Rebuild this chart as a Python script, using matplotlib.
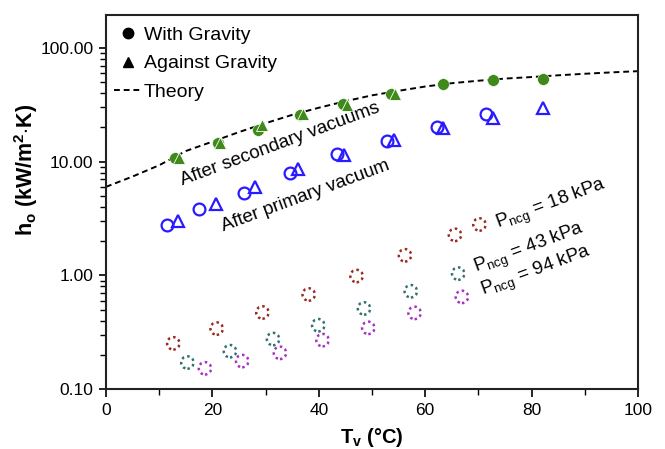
import matplotlib
matplotlib.use("Agg")
import matplotlib.pyplot as plt
from matplotlib.lines import Line2D
from matplotlib.ticker import FixedLocator, FuncFormatter, LogLocator, NullFormatter

plt.rcParams['font.family'] = ['Liberation Sans', 'DejaVu Sans']
plt.rcParams['mathtext.fontset'] = 'custom'
plt.rcParams['mathtext.rm'] = 'Liberation Sans'
plt.rcParams['mathtext.it'] = 'Liberation Sans:italic'
plt.rcParams['mathtext.bf'] = 'Liberation Sans:bold'

# ---- data ----
sec_with_x = [13.0, 21.0, 28.6, 36.5, 44.5, 53.5, 63.4, 72.8, 82.2]
sec_with_y = [10.7, 14.5, 18.8, 25.7, 32.0, 39.7, 48.1, 52.1, 53.8]
sec_against_x = [13.8, 21.5, 29.3, 37.0, 45.3, 54.3]
sec_against_y = [10.8, 14.6, 21.0, 26.0, 31.5, 39.0]

pri_with_x = [11.4, 17.5, 25.9, 34.6, 43.5, 52.9, 62.3, 71.4]
pri_with_y = [2.79, 3.85, 5.27, 7.96, 11.7, 15.3, 20.3, 26.5]
pri_against_x = [13.6, 20.7, 28.0, 36.0, 44.8, 54.1, 63.4, 72.8, 82.2]
pri_against_y = [2.99, 4.2, 6.04, 8.63, 11.5, 15.5, 19.6, 24.2, 29.6]

ncg18_x = [12.65, 20.8, 29.4, 38.1, 47.1, 56.2, 65.6, 70.2]
ncg18_y = [0.252, 0.340, 0.471, 0.678, 0.986, 1.50, 2.27, 2.80]
ncg43_x = [15.3, 23.3, 31.4, 39.9, 48.5, 57.3, 66.2]
ncg43_y = [0.171, 0.215, 0.275, 0.364, 0.511, 0.724, 1.035]
ncg94_x = [18.6, 25.6, 32.7, 40.7, 49.3, 58.0, 66.9]
ncg94_y = [0.152, 0.176, 0.208, 0.269, 0.345, 0.467, 0.646]

theory_x = [0, 5, 10, 15, 20, 25, 30, 35, 40, 45, 50, 55, 60, 65, 70, 75, 80, 85, 90, 95, 100]
theory_y = [6.0, 7.4, 9.3, 12.4, 15.0, 18.2, 21.8, 25.8, 29.8, 34.0, 38.3, 42.0, 45.8,
            49.0, 51.5, 53.8, 55.5, 57.5, 59.3, 61.0, 62.5]

y_ticks = [0.1, 1, 10, 100]
x_ticks = [0, 20, 40, 60, 80, 100]

green = '#3f8a1a'
blue = '#2a1aff'
c18 = '#9a2b22'
c43 = '#2f7272'
c94 = '#a533c0'

fig = plt.figure(figsize=(6.65, 4.49), dpi=100)
ax = fig.add_axes([106/665, 1-389/449, 532/665, 374/449])
ax.set_yscale('log')
ax.set_xlim(0, 100)
ax.set_ylim(0.1, 195)

ax.plot(theory_x, theory_y, ls=(0, (3, 2)), color='black', lw=1.4, zorder=2)

ax.plot(sec_with_x, sec_with_y, 'o', color=green, ms=8.5, mec='white', mew=0.4, zorder=3)
ax.plot(sec_against_x, sec_against_y, '^', color=green, ms=9, mec='white', mew=0.6, zorder=4)

ax.plot(pri_with_x, pri_with_y, 'o', mfc='none', mec=blue, ms=8.5, mew=1.6, zorder=3)
ax.plot(pri_against_x, pri_against_y, '^', mfc='none', mec=blue, ms=9, mew=1.6, zorder=3)

for xs, ys, c in [(ncg18_x, ncg18_y, c18), (ncg43_x, ncg43_y, c43), (ncg94_x, ncg94_y, c94)]:
    ax.scatter(xs, ys, s=80, facecolors='none', edgecolors=c, linewidths=1.8,
               linestyle=(0, (1, 1.3)), zorder=3)

# texts
fig.text(280/665, 1-144/449, 'After secondary vacuums', rotation=20.4, fontsize=13.5,
         ha='center', va='center')
fig.text(306/665, 1-196/449, 'After primary vacuum', rotation=20.4, fontsize=13.5,
         ha='center', va='center')
fig.text(551/665, 1-205/449, r'P$_{\mathregular{ncg}}$ = 18 kPa', rotation=20.3, fontsize=13.5,
         ha='center', va='center')
fig.text(529/665, 1-249/449, r'P$_{\mathregular{ncg}}$ = 43 kPa', rotation=20.3, fontsize=13.5,
         ha='center', va='center')
fig.text(536/665, 1-272/449, r'P$_{\mathregular{ncg}}$ = 94 kPa', rotation=20.3, fontsize=13.5,
         ha='center', va='center')

# legend
handles = [Line2D([], [], ls='none', marker='o', color='black', ms=7.5),
           Line2D([], [], ls='none', marker='^', color='black', ms=7.5),
           Line2D([], [], ls=(0, (3, 2)), color='black', lw=1.4)]
leg = ax.legend(handles, ['With Gravity', 'Against Gravity', 'Theory'], loc='upper left',
                bbox_to_anchor=(0.0, 0.99), frameon=False, fontsize=14,
                handlelength=1.45, handletextpad=0.1, labelspacing=0.55,
                borderaxespad=0.0, borderpad=0.4)

# ticks
ax.yaxis.set_major_locator(FixedLocator(y_ticks))
ax.yaxis.set_major_formatter(FuncFormatter(lambda v, p: f'{v:.2f}'))
ax.yaxis.set_minor_locator(LogLocator(base=10, subs=range(2, 10)))
ax.yaxis.set_minor_formatter(NullFormatter())
ax.xaxis.set_major_locator(FixedLocator(x_ticks))
ax.xaxis.set_minor_locator(FixedLocator([10, 30, 50, 70, 90]))
ax.tick_params(axis='both', which='major', direction='out', length=5, width=1.2,
               labelsize=12.5, pad=4)
ax.tick_params(axis='both', which='minor', direction='out', length=4, width=1.0)
ax.tick_params(axis='x', which='major', length=6)

for sp in ax.spines.values():
    sp.set_linewidth(1.5)
    sp.set_color('#222222')

ax.set_xlabel(r'T$_{\mathbf{v}}$ (°C)', fontsize=14.5, fontweight='bold', labelpad=6)
ax.set_ylabel(r'h$_{\mathbf{o}}$ (kW/m$^{\mathbf{2}}$$\cdot$K)', fontsize=15.5, fontweight='bold')
ax.yaxis.set_label_coords(-0.125, 0.585)

fig.savefig('out.png', dpi=100)
